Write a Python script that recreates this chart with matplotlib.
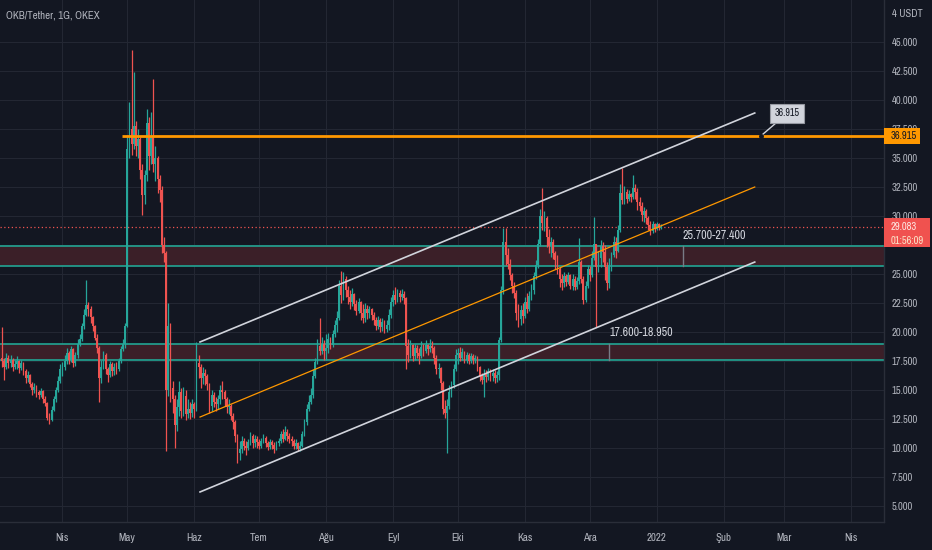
import matplotlib
matplotlib.use("Agg")
import matplotlib.pyplot as plt
import matplotlib.dates as mdates
import matplotlib.transforms as mtransforms
from matplotlib import font_manager as fm
from matplotlib.patches import Rectangle
from datetime import datetime, timedelta
import numpy as np


def pick_font():
    for f in fm.fontManager.ttflist:
        n = f.name.lower()
        if ('narrow' in n or 'condensed' in n) and 'mono' not in n:
            return f.name, 'normal', True
    for f in fm.fontManager.ttflist:
        st = str(f.stretch).lower()
        if st in ('condensed', 'semi-condensed', '75', '87.5', 'extra-condensed') \
                and 'mono' not in f.name.lower() and f.weight in (400, 'normal', 'regular'):
            return f.name, f.stretch, True
    return 'Liberation Sans', 'normal', False


FAM, STRETCH, NARROW = pick_font()
plt.rcParams['font.family'] = [FAM, 'DejaVu Sans']
plt.rcParams['font.stretch'] = STRETCH
K = 1.0 if NARROW else 0.9

# ---------------- data (daily OKB/USDT candles) ----------------
start_date = datetime(2021, 3, 4)
first_open = 17.8

close_mar = [17.5, 17.0, 17.8, 17.3, 17.6, 17.0, 17.2, 17.5, 16.9, 17.3, 16.6, 16.0, 16.3, 15.5,
             15.0, 15.3, 14.8, 14.6, 14.9, 14.2, 13.9, 12.6, 12.4, 13.3, 14.2, 15.0, 15.8, 16.8]
high_mar = [20.4, 17.8, 18.2, 18.0, 18.0, 17.8, 17.6, 17.9, 17.6, 17.6, 17.4, 16.8, 16.6, 16.4,
            15.7, 15.6, 15.4, 15.0, 15.2, 15.0, 14.5, 14.0, 13.0, 13.6, 14.5, 15.3, 16.2, 17.2]
low_mar = [17.0, 15.9, 16.8, 16.9, 17.0, 16.6, 16.8, 16.8, 16.5, 16.7, 16.3, 15.6, 15.7, 15.3,
           14.6, 14.7, 14.4, 14.2, 14.4, 13.9, 13.6, 12.4, 12.1, 12.3, 13.2, 14.0, 14.8, 15.6]

close_apr = [17.0, 17.5, 18.2, 17.6, 18.5, 17.3, 18.0, 19.0, 19.4, 20.5,
             21.5, 22.3, 22.0, 21.3, 20.5, 19.5, 18.6, 16.0, 17.0, 18.0,
             16.8, 16.3, 17.2, 16.6, 17.0, 16.8, 17.5, 18.5, 19.0, 20.5]
high_apr = [17.4, 18.0, 18.6, 18.4, 18.8, 18.6, 18.3, 19.4, 19.8, 20.8,
            22.0, 24.5, 22.6, 22.2, 21.4, 20.6, 19.8, 18.8, 17.6, 18.4,
            18.2, 17.0, 17.5, 17.4, 17.3, 17.4, 17.8, 18.8, 19.4, 20.8]
low_apr = [16.2, 16.7, 17.2, 17.2, 17.4, 17.0, 17.1, 17.8, 18.8, 19.2,
           20.3, 21.4, 21.4, 20.8, 20.1, 19.3, 18.2, 14.0, 15.6, 16.8,
           16.4, 15.7, 16.1, 16.2, 16.3, 16.4, 16.6, 17.3, 18.4, 18.6]

close_may = [35.8, 37.5, 36.2, 37.8, 36.0, 36.6, 34.0, 31.8, 33.5, 38.0,
             35.2, 36.8, 34.5, 35.0, 33.2, 32.2, 27.5, 26.8, 15.0, 20.5,
             15.2, 14.2, 12.0, 13.5, 14.8, 13.2, 14.5, 12.9, 13.4, 13.0, 13.8]
high_may = [37.0, 39.8, 44.3, 42.4, 38.2, 37.5, 36.8, 34.5, 34.0, 39.2,
            38.5, 39.0, 41.8, 36.0, 35.2, 33.5, 32.6, 28.2, 27.0, 22.5,
            20.8, 15.8, 14.6, 14.2, 15.8, 15.2, 15.3, 15.0, 14.2, 14.0, 14.2]
low_may = [20.4, 35.0, 35.3, 35.8, 35.2, 35.0, 33.2, 30.1, 31.0, 33.0,
           34.0, 34.5, 33.8, 33.0, 32.0, 31.2, 26.8, 26.0, 9.7, 14.5,
           14.0, 13.0, 10.0, 11.5, 12.8, 12.6, 12.8, 12.4, 12.6, 12.5, 12.7]

close_jun = [13.4, 17.3, 17.0, 16.0, 16.5, 16.2, 15.5, 13.6, 14.6, 14.0,
             13.8, 14.2, 15.0, 14.8, 14.2, 13.5, 13.6, 12.8, 12.2, 11.0,
             9.6, 9.9, 10.6, 10.2, 10.0, 10.5, 11.0, 10.4, 10.8, 10.5]
high_jun = [14.0, 19.1, 18.0, 17.2, 17.0, 16.8, 16.4, 15.6, 15.0, 14.8,
            14.4, 14.6, 15.4, 15.8, 15.0, 14.4, 14.2, 13.8, 13.0, 12.4,
            11.2, 10.6, 11.0, 10.9, 10.6, 10.8, 11.4, 11.2, 11.1, 11.0]
low_jun = [12.6, 13.2, 16.0, 15.2, 15.5, 15.4, 15.0, 13.0, 13.2, 13.5,
           13.2, 13.4, 13.8, 14.2, 13.6, 13.0, 12.9, 12.4, 11.6, 10.5,
           8.7, 9.0, 9.6, 9.8, 9.4, 9.8, 10.3, 10.0, 10.1, 10.0]

close_jul = [10.2, 10.6, 10.9, 10.4, 10.1, 10.5, 10.3, 9.9, 10.4, 10.6,
             11.2, 10.8, 11.4, 11.0, 10.8, 10.6, 10.2, 10.4, 9.9, 10.2,
             11.2, 12.2, 13.4, 14.0, 14.6, 16.2, 17.4, 18.8, 18.4, 19.0, 18.4]
high_jul = [10.8, 10.9, 11.2, 11.0, 10.6, 10.8, 10.7, 10.5, 10.6, 10.9,
            11.5, 11.6, 11.9, 11.6, 11.3, 11.0, 10.8, 10.8, 10.5, 10.6,
            11.5, 12.5, 13.8, 14.6, 15.2, 16.8, 17.8, 19.4, 21.2, 19.6, 19.3]
low_jul = [9.9, 10.0, 10.4, 10.1, 9.8, 9.9, 9.9, 9.6, 9.8, 10.2,
           10.4, 10.5, 10.7, 10.6, 10.4, 10.2, 9.9, 9.9, 9.7, 9.7,
           10.1, 11.0, 12.0, 13.2, 13.8, 14.3, 16.0, 17.2, 18.0, 18.1, 17.6]

close_aug = [18.6, 19.4, 18.9, 19.8, 20.6, 21.2, 24.0, 23.2, 24.6, 23.6,
             23.0, 22.6, 23.3, 22.4, 21.8, 22.6, 21.6, 21.2, 22.0, 21.6,
             22.0, 21.5, 21.0, 20.5, 21.0, 20.4, 20.9, 20.3, 20.6, 21.5, 22.6]
high_aug = [19.8, 19.9, 19.6, 20.2, 21.0, 21.8, 24.5, 25.3, 25.2, 24.8,
            24.0, 23.6, 23.8, 23.4, 22.8, 22.9, 22.7, 22.4, 22.5, 22.3,
            22.2, 22.1, 21.7, 21.3, 21.4, 21.2, 21.2, 21.0, 21.0, 22.0, 23.0]
low_aug = [17.6, 18.2, 18.5, 18.7, 19.6, 20.0, 21.0, 22.5, 22.8, 23.0,
           22.4, 22.0, 22.2, 21.9, 21.5, 21.6, 21.0, 20.8, 20.9, 21.1,
           21.2, 21.0, 20.6, 20.2, 20.3, 20.0, 20.1, 19.9, 20.0, 20.2, 21.2]

close_sep = [23.2, 22.8, 23.4, 23.0, 23.3, 22.9, 18.8, 18.0, 18.9, 17.9,
             18.6, 18.2, 17.9, 18.7, 18.4, 18.9, 18.5, 18.8, 18.6, 17.8,
             16.8, 16.9, 15.6, 13.4, 13.0, 13.6, 14.8, 15.4, 16.8, 18.0]
high_sep = [23.6, 23.9, 23.7, 23.6, 23.7, 23.5, 23.0, 19.4, 19.3, 19.0,
            19.0, 18.9, 18.6, 19.2, 19.0, 19.3, 19.0, 19.4, 19.2, 18.8,
            18.0, 17.3, 17.0, 15.8, 14.1, 14.2, 15.4, 15.8, 17.2, 18.5]
low_sep = [22.2, 22.4, 22.6, 22.6, 22.8, 22.4, 16.8, 17.4, 17.8, 17.5,
           17.6, 17.8, 17.2, 17.8, 17.9, 18.2, 18.0, 18.3, 18.2, 17.2,
           16.4, 16.0, 15.0, 12.9, 12.6, 9.6, 13.4, 14.4, 15.2, 16.6]

close_oct = [18.2, 17.8, 18.3, 17.6, 18.0, 17.5, 17.9, 17.6, 17.8, 17.0,
             16.2, 15.9, 16.4, 16.1, 16.6, 16.2, 16.5, 16.0, 16.3, 19.3,
             23.6, 27.8, 26.6, 25.9, 24.9, 24.0, 23.4, 21.6, 21.1, 21.9, 21.4]
high_oct = [18.6, 18.7, 18.6, 18.4, 18.3, 18.2, 18.2, 18.1, 18.0, 17.9,
            17.1, 16.5, 16.8, 16.7, 16.9, 16.8, 16.8, 16.7, 16.6, 19.6,
            24.0, 29.0, 29.0, 27.2, 26.3, 25.1, 24.3, 23.6, 22.4, 22.3, 22.5]
low_oct = [17.2, 17.5, 17.6, 17.3, 17.3, 17.2, 17.3, 17.2, 17.3, 16.6,
           15.8, 15.5, 14.4, 15.7, 15.9, 15.8, 15.8, 15.6, 15.7, 15.9,
           19.1, 23.3, 25.8, 25.4, 24.5, 23.4, 22.9, 21.0, 20.4, 20.6, 20.8]

close_nov = [22.6, 22.0, 23.1, 23.6, 24.8, 25.8, 27.6, 30.0, 29.4, 29.8,
             28.2, 27.4, 27.8, 26.8, 26.2, 25.4, 24.6, 24.2, 24.8, 24.3,
             24.9, 24.0, 24.6, 23.9, 24.4, 26.0, 24.6, 22.8, 24.0, 25.4]
high_nov = [23.0, 23.4, 23.5, 24.1, 25.2, 26.2, 28.0, 30.6, 32.4, 30.4,
            30.0, 28.9, 28.2, 28.0, 27.0, 26.6, 25.6, 25.0, 25.2, 25.0,
            25.2, 25.0, 25.0, 24.8, 24.7, 28.1, 26.2, 24.8, 24.4, 25.8]
low_nov = [21.2, 21.6, 21.8, 22.8, 23.3, 24.6, 25.5, 27.4, 28.8, 28.7,
           27.3, 26.8, 26.5, 26.3, 25.4, 25.0, 23.9, 23.6, 23.9, 24.0,
           24.1, 23.7, 23.6, 23.6, 23.7, 24.1, 24.2, 22.4, 22.6, 23.8]

close_dec = [24.9, 26.4, 27.6, 25.6, 26.4, 27.4, 26.9, 25.6, 24.2, 25.8,
             26.6, 27.8, 27.0, 28.8, 32.0, 31.4, 32.1, 31.5, 31.9, 31.6,
             32.4, 32.1, 31.2, 30.9, 30.1, 30.4, 29.8, 29.2, 28.7, 29.3, 28.9]
high_dec = [25.7, 27.0, 29.9, 27.6, 27.0, 27.9, 27.8, 27.5, 26.0, 26.4,
            26.9, 28.3, 28.2, 29.2, 32.8, 34.1, 32.6, 32.3, 32.2, 32.0,
            33.5, 32.8, 32.4, 31.6, 31.2, 30.8, 30.6, 30.0, 29.6, 29.6, 29.4]
low_dec = [24.4, 24.7, 26.2, 20.4, 25.2, 25.6, 26.0, 24.5, 23.6, 23.8,
           25.3, 26.5, 26.4, 26.9, 28.6, 31.0, 31.0, 31.1, 31.3, 31.2,
           31.5, 31.5, 30.5, 30.4, 29.6, 29.5, 29.3, 28.8, 28.4, 28.5, 28.6]

close_jan = [29.3, 29.0, 29.083]
high_jan = [29.5, 29.4, 29.3]
low_jan = [28.8, 28.8, 28.9]

month_ticks = [datetime(2021, m, 1) for m in range(4, 13)] + \
              [datetime(2022, m, 1) for m in range(1, 5)]
month_labels = ["Nis", "May", "Haz", "Tem", "Ağu", "Eyl", "Eki", "Kas", "Ara",
                "2022", "Şub", "Mar", "Nis"]
price_ticks = [5 + 2.5 * i for i in range(17)]
hidden_ticks = [27.5]          # label fully covered by the last-price badge

last_price = 29.083
countdown = "01:56:09"
resistance = 36.915
resistance_start = datetime(2021, 4, 28, 14)
zones = [(25.7, 27.4), (17.6, 18.95)]
zone_label_dates = [datetime(2022, 1, 13), datetime(2021, 12, 9, 22)]
zone_label_prices = [28.36, 20.0]

chan_dates = [datetime(2021, 6, 3, 16), datetime(2022, 2, 15, 7)]
chan_upper = [19.14, 38.88]
chan_mid = [12.67, 32.50]
chan_lower = [6.21, 26.03]
callout_tip = (datetime(2022, 2, 18, 5), 36.915)
callout_box = (datetime(2022, 3, 2, 6), 38.84)

# ---------------- assemble ----------------
closes = np.array(close_mar + close_apr + close_may + close_jun + close_jul + close_aug +
                  close_sep + close_oct + close_nov + close_dec + close_jan)
highs = np.array(high_mar + high_apr + high_may + high_jun + high_jul + high_aug +
                 high_sep + high_oct + high_nov + high_dec + high_jan)
lows = np.array(low_mar + low_apr + low_may + low_jun + low_jul + low_aug +
                low_sep + low_oct + low_nov + low_dec + low_jan)
opens = np.concatenate([[first_open], closes[:-1]])
highs = np.maximum(highs, np.maximum(opens, closes))
lows = np.minimum(lows, np.minimum(opens, closes))
dates = [start_date + timedelta(days=i) for i in range(len(closes))]
xd = mdates.date2num(dates)

# ---------------- style ----------------
BG = '#131722'
GRID = '#232733'
TEXT = '#b2b5be'
UP = '#26a69a'
DOWN = '#ef5350'
ZONE_FILL = '#3b1f28'
ZONE_EDGE = '#22a593'
WHITE = '#d1d4dc'
ORANGE = '#ff9800'

W, H = 932, 550
fig = plt.figure(figsize=(W / 100, H / 100), dpi=100, facecolor=BG)
ax = fig.add_axes([0, 1 - 522 / H, 884 / W, 522 / H])
ax.set_facecolor(BG)

apr1 = mdates.date2num(datetime(2021, 4, 1))
ppd = 2.1616
ax.set_xlim(apr1 - 62.4 / ppd, apr1 + (884 - 62.4) / ppd)
ax.set_ylim(5 - 16 / 11.6, 5 + 506 / 11.6)

# axes, ticks, grid
ax.set_xticks(mdates.date2num(month_ticks))
ax.set_xticklabels(month_labels)
ax.set_yticks(price_ticks)
ax.set_yticklabels(["" if v in hidden_ticks else f"{v:.3f}" for v in price_ticks])
ax.yaxis.tick_right()
ax.grid(True, color=GRID, lw=0.8)
ax.set_axisbelow(True)
ax.tick_params(axis='x', length=0, pad=8, labelsize=7.8 * K, colors=TEXT)
ax.tick_params(axis='y', length=0, pad=5.5, labelsize=7.6 * K, colors=TEXT)
for s in ['top', 'left']:
    ax.spines[s].set_visible(False)
for s in ['right', 'bottom']:
    ax.spines[s].set_color('#2a2e39')
    ax.spines[s].set_linewidth(1)

# zones
for lo, hi in zones:
    ax.axhspan(lo, hi, color=ZONE_FILL, lw=0, zorder=1)
    ax.axhline(lo, color=ZONE_EDGE, lw=1.2, zorder=2)
    ax.axhline(hi, color=ZONE_EDGE, lw=1.2, zorder=2)

# candles
up = closes >= opens
cols = np.where(up, UP, DOWN)
ax.vlines(xd, lows, highs, colors=cols, lw=0.9, zorder=3)
body = np.maximum(np.abs(closes - opens), 0.08)
ax.bar(xd, body, bottom=np.minimum(opens, closes), width=0.82, color=cols, lw=0, zorder=4)

# last price dotted line
ax.axhline(last_price, color=DOWN, lw=0.9, ls=(0, (1, 2)), zorder=2)

# resistance line
ax.plot([mdates.date2num(resistance_start), ax.get_xlim()[1]], [resistance, resistance],
        color=ORANGE, lw=2, zorder=5, solid_capstyle='butt')

# channel
cd = mdates.date2num(chan_dates)
ax.plot(cd, chan_upper, color=WHITE, lw=1.2, zorder=6)
ax.plot(cd, chan_lower, color=WHITE, lw=1.2, zorder=6)
ax.plot(cd, chan_mid, color=ORANGE, lw=0.9, zorder=6)

# range labels
for (lo, hi), d, p in zip(zones, zone_label_dates, zone_label_prices):
    dn = mdates.date2num(d)
    ax.plot([dn, dn], [lo, hi], color='#787b86', lw=1, zorder=6)
    ax.text(dn, p, f"{lo:.3f}-{hi:.3f}", color=WHITE, fontsize=8.6 * K, ha='left',
            va='center', zorder=7)

# callout
tip = (mdates.date2num(callout_tip[0]), callout_tip[1])
box = (mdates.date2num(callout_box[0]), callout_box[1])
ax.annotate(f"{resistance:.3f}", xy=tip, xytext=box, ha='center', va='center',
            fontsize=7.2 * K, color='#131722', zorder=8,
            bbox=dict(boxstyle='square,pad=0.45', fc='#d1d4dc', ec='#9598a1', lw=0.8),
            arrowprops=dict(arrowstyle='-', color=WHITE, lw=1, shrinkA=0, shrinkB=0))
ax.plot([tip[0]], [tip[1]], 'o', ms=2.5, color='#131722', zorder=9)

# price badges on right axis
tr = mtransforms.blended_transform_factory(ax.transAxes, ax.transData)
ax.add_patch(Rectangle((1.0, resistance - 0.69), 36 / 884, 1.38, transform=tr,
                       fc=ORANGE, ec='none', clip_on=False, zorder=10))
ax.text(1.0 + 7.0 / 884, resistance, f"{resistance:.3f}", transform=tr, ha='left',
        va='center', fontsize=7.6 * K, color='#131722', clip_on=False, zorder=11)
ax.add_patch(Rectangle((1.0, last_price - 1.75), 46 / 884, 2.5, transform=tr,
                       fc='#f0524f', ec='none', clip_on=False, zorder=10))
ax.text(1.0 + 7.0 / 884, last_price, f"{last_price:.3f}", transform=tr, ha='left',
        va='center', fontsize=7.6 * K, color='#fde7e2', clip_on=False, zorder=11)
ax.text(1.0 + 7.0 / 884, last_price - 1.2, countdown, transform=tr, ha='left',
        va='center', fontsize=7.6 * K * (1.0 if NARROW else 0.88), color='#fbe3c8',
        clip_on=False, zorder=11)

# header texts
fig.text(6 / W, 1 - 16 / H, "OKB/Tether, 1G, OKEX", color=TEXT, fontsize=7.8 * K,
         ha='left', va='center')
fig.text(892 / W, 1 - 14 / H, "4 USDT", color=TEXT, fontsize=7.6 * K, ha='left', va='center')

fig.savefig("out.png", dpi=100, facecolor=BG)
